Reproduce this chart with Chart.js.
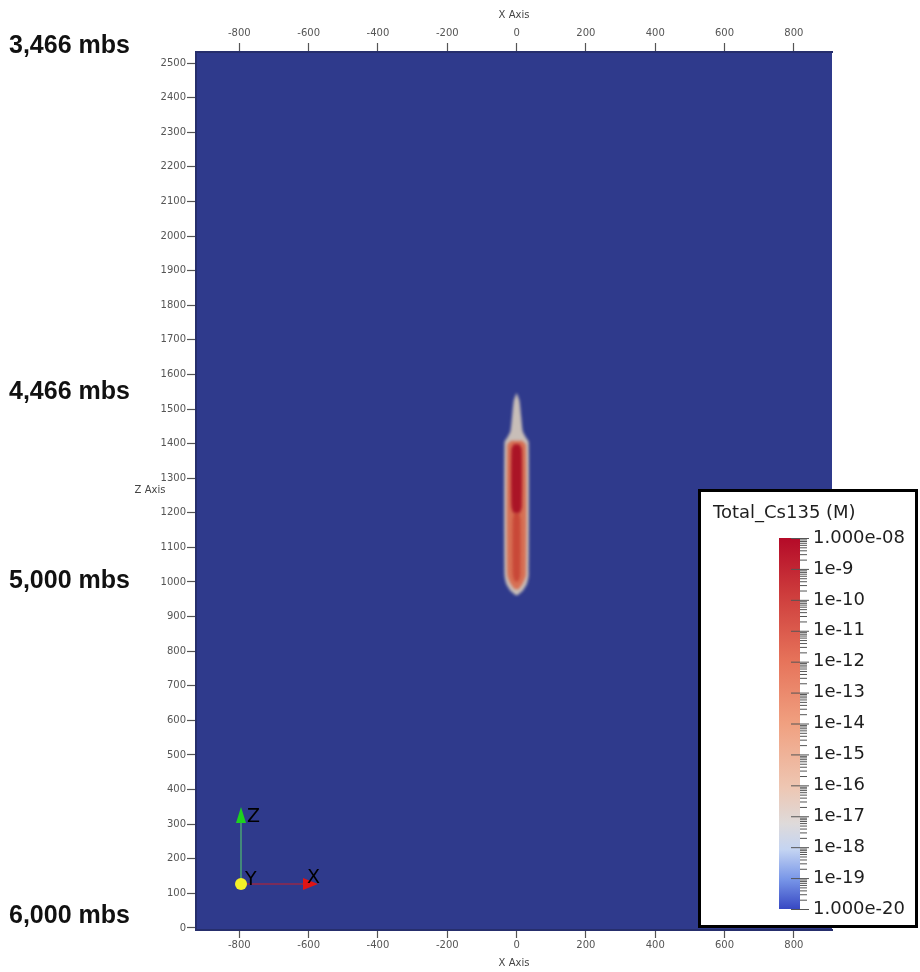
<!DOCTYPE html>
<html lang="en">
<head>
  <meta charset="UTF-8">
  <script src="https://cdn.jsdelivr.net/npm/chart.js@4"></script>
  <title>Total_Cs135 (M)</title>
  <style>
    html, body { margin: 0; padding: 0; background: #fff; }
    #wrap { position: relative; width: 920px; height: 972px; }
  </style>
</head>
<body>
  <div id="wrap"><canvas id="plumeChart" width="920" height="972"></canvas></div>

  <script>
    // axes
    const xTicks = [-800, -600, -400, -200, 0, 200, 400, 600, 800];
    const zTicks = [0, 100, 200, 300, 400, 500, 600, 700, 800, 900, 1000, 1100, 1200,
                    1300, 1400, 1500, 1600, 1700, 1800, 1900, 2000, 2100, 2200, 2300, 2400, 2500];
    const xRange = [-925, 910];
    const zRange = [-6, 2532];

    // depth annotations on the left (metres below surface) and the Z they line up with
    const depthLabels = ['3,466 mbs', '4,466 mbs', '5,000 mbs', '6,000 mbs'];
    const depthZ = [2549, 1549, 1003, 35];

    // plume outline: elevation and half-width (m), mirrored about x = 0
    const haloZ    = [1545, 1525, 1480, 1435, 1418, 1405, 1020, 995, 975, 962];
    const haloHalf = [1, 8, 13, 18, 27, 35, 35, 30, 18, 2];
    const outerZ    = [1408, 1396, 1020, 996, 980];
    const outerHalf = [16, 27, 27, 18, 6];
    const coreZ    = [1398, 1384, 1218, 1200];
    const coreHalf = [8, 15, 15, 9];
    const lowerZ    = [1200, 1182, 1022, 1002];
    const lowerHalf = [6, 11, 11, 5];

    // colour legend
    const cbLabels = ['1.000e-08', '1e-9', '1e-10', '1e-11', '1e-12', '1e-13', '1e-14',
                      '1e-15', '1e-16', '1e-17', '1e-18', '1e-19', '1.000e-20'];
    const cbStops = [
      [0.00, 'rgb(180,10,40)'],
      [0.15, 'rgb(205,60,60)'],
      [0.33, 'rgb(230,115,90)'],
      [0.50, 'rgb(240,160,128)'],
      [0.67, 'rgb(238,198,178)'],
      [0.77, 'rgb(222,218,218)'],
      [0.84, 'rgb(196,212,242)'],
      [0.92, 'rgb(120,150,232)'],
      [1.00, 'rgb(55,72,195)']
    ];

    const BLUE = '#2f3a8c';

    function outline(zs, halves) {
      const right = zs.map((z, i) => ({ x: halves[i], y: z }));
      const left = zs.map((z, i) => ({ x: -halves[i], y: z })).reverse();
      return right.concat(left);
    }

    function plumeSet(label, zs, halves, color) {
      return {
        label: label,
        data: outline(zs, halves),
        showLine: true,
        fill: 'shape',
        tension: 0.2,
        borderWidth: 0,
        pointRadius: 0,
        backgroundColor: color
      };
    }

    const backgroundPlugin = {
      id: 'background',
      beforeDraw(chart) {
        const { ctx, chartArea: a } = chart;
        ctx.save();
        ctx.fillStyle = BLUE;
        ctx.fillRect(a.left, a.top, a.right - a.left, a.bottom - a.top);
        ctx.restore();
      }
    };

    // soft edges like the interpolated render
    const blurPlugin = {
      id: 'blur',
      beforeDatasetsDraw(chart) {
        chart.ctx.save();
        chart.ctx.filter = 'blur(1.6px)';
      },
      afterDatasetsDraw(chart) {
        chart.ctx.restore();
      }
    };

    const overlayPlugin = {
      id: 'overlay',
      afterDraw(chart) {
        const { ctx, chartArea: a } = chart;
        const yScale = chart.scales.y;
        ctx.save();

        // depth labels
        ctx.fillStyle = '#111';
        ctx.font = 'bold 25px "Liberation Sans", Arial, sans-serif';
        ctx.textAlign = 'left';
        ctx.textBaseline = 'middle';
        depthLabels.forEach((t, i) => ctx.fillText(t, 9, yScale.getPixelForValue(depthZ[i])));

        // horizontal Z axis title
        ctx.fillStyle = '#444';
        ctx.font = '10px "DejaVu Sans", sans-serif';
        ctx.textAlign = 'center';
        ctx.fillText('Z Axis', 150, (a.top + a.bottom) / 2 - 1);

        // orientation triad
        const ox = a.left + 45, oy = a.bottom - 46;
        ctx.lineWidth = 1.2;
        ctx.strokeStyle = 'rgb(80,190,110)';
        ctx.beginPath(); ctx.moveTo(ox, oy); ctx.lineTo(ox, oy - 62); ctx.stroke();
        ctx.fillStyle = 'rgb(30,210,30)';
        ctx.beginPath(); ctx.moveTo(ox - 5, oy - 61); ctx.lineTo(ox + 5, oy - 61); ctx.lineTo(ox, oy - 77); ctx.closePath(); ctx.fill();
        ctx.strokeStyle = 'rgb(200,30,40)';
        ctx.beginPath(); ctx.moveTo(ox, oy); ctx.lineTo(ox + 63, oy); ctx.stroke();
        ctx.fillStyle = 'rgb(225,20,20)';
        ctx.beginPath(); ctx.moveTo(ox + 62, oy - 6); ctx.lineTo(ox + 62, oy + 6); ctx.lineTo(ox + 77, oy); ctx.closePath(); ctx.fill();
        ctx.fillStyle = 'rgb(245,240,40)';
        ctx.beginPath(); ctx.arc(ox, oy, 6, 0, Math.PI * 2); ctx.fill();
        ctx.fillStyle = '#000';
        ctx.font = '19px "DejaVu Sans", sans-serif';
        ctx.textAlign = 'left';
        ctx.textBaseline = 'alphabetic';
        ctx.fillText('Z', ox + 6, oy - 62);
        ctx.fillText('Y', ox + 4, oy + 1);
        ctx.fillText('X', ox + 66, oy - 1);

        // legend box
        ctx.fillStyle = '#fff';
        ctx.fillRect(698, 489, 220, 439);
        ctx.strokeStyle = '#000';
        ctx.lineWidth = 3;
        ctx.strokeRect(699.5, 490.5, 217, 436);

        ctx.fillStyle = '#1e1e1e';
        ctx.font = '18px "DejaVu Sans", sans-serif';
        ctx.textBaseline = 'middle';
        ctx.fillText('Total_Cs135 (M)', 713, 513);

        const bx = 779, bw = 21, by = 538, bh = 371;
        const g = ctx.createLinearGradient(0, by, 0, by + bh);
        cbStops.forEach(s => g.addColorStop(s[0], s[1]));
        ctx.fillStyle = g;
        ctx.fillRect(bx, by, bw, bh);

        const step = bh / (cbLabels.length - 1);
        ctx.strokeStyle = '#555';
        ctx.lineWidth = 1;
        for (let i = 0; i < cbLabels.length; i++) {
          const y = by + i * step;
          ctx.beginPath(); ctx.moveTo(bx + 12, y + 0.5); ctx.lineTo(bx + 30, y + 0.5); ctx.stroke();
          if (i < cbLabels.length - 1) {
            for (let k = 2; k <= 9; k++) {
              const yy = by + (i + 1) * step - Math.log10(k) * step;
              ctx.beginPath(); ctx.moveTo(bx + bw, yy + 0.5); ctx.lineTo(bx + bw + 7, yy + 0.5); ctx.stroke();
            }
          }
        }
        ctx.fillStyle = '#1e1e1e';
        cbLabels.forEach((t, i) => ctx.fillText(t, 813, by + i * step));

        ctx.restore();
      }
    };

    const tickFont = { family: 'DejaVu Sans', size: 10 };
    const border = { color: '#262e6c', width: 2 };

    function xAxis(pos, h, titlePad) {
      return {
        type: 'linear',
        axis: 'x',
        position: pos,
        min: xRange[0],
        max: xRange[1],
        afterBuildTicks: s => { s.ticks = xTicks.map(v => ({ value: v })); },
        afterFit: s => { s.height = h; },
        grid: { drawOnChartArea: false, tickLength: pos === 'top' ? 9 : 8, tickColor: '#555', tickWidth: 1.2 },
        border: border,
        ticks: { color: '#555', font: tickFont, padding: pos === 'top' ? 4 : 1, maxRotation: 0, autoSkip: false,
                 callback: v => String(v) },
        title: { display: true, text: 'X Axis', color: '#444', font: tickFont, padding: titlePad }
      };
    }

    new Chart(document.getElementById('plumeChart'), {
      type: 'scatter',
      data: {
        datasets: [
          plumeSet('core', coreZ, coreHalf, 'rgb(170,20,38)'),
          plumeSet('lower', lowerZ, lowerHalf, 'rgb(200,72,56)'),
          plumeSet('outer', outerZ, outerHalf, 'rgb(215,112,84)'),
          plumeSet('halo', haloZ, haloHalf, 'rgb(200,190,184)')
        ]
      },
      options: {
        responsive: false,
        animation: false,
        layout: { padding: { left: 0, top: 0, right: 88, bottom: 0 } },
        plugins: { legend: { display: false }, tooltip: { enabled: false } },
        scales: {
          x: xAxis('bottom', 42, { top: 0, bottom: 3 }),
          x2: xAxis('top', 52, { top: 9, bottom: 0 }),
          y: {
            type: 'linear',
            position: 'left',
            min: zRange[0],
            max: zRange[1],
            afterBuildTicks: s => { s.ticks = zTicks.map(v => ({ value: v })); },
            afterFit: s => { s.width = 196; },
            grid: { drawOnChartArea: false, tickLength: 9, tickColor: '#555', tickWidth: 1.2 },
            border: border,
            ticks: { color: '#555', font: tickFont, padding: 1, autoSkip: false, callback: v => String(v) }
          }
        }
      },
      plugins: [backgroundPlugin, blurPlugin, overlayPlugin]
    });
  </script>
</body>
</html>
